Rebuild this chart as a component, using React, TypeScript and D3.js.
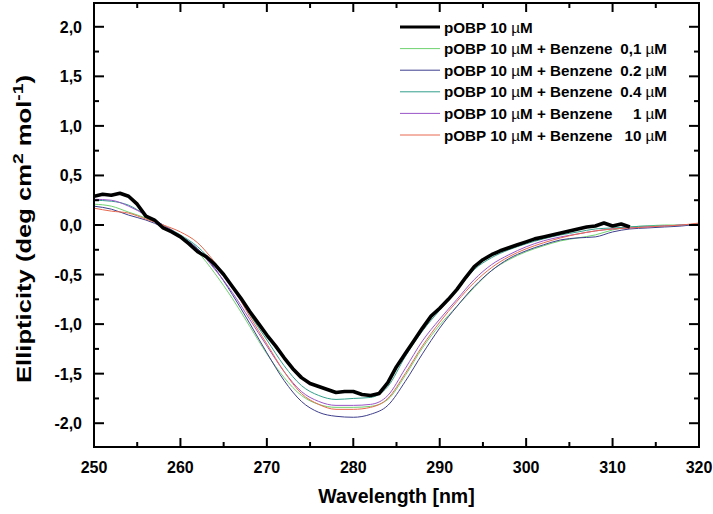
import React from 'react';
import * as d3 from 'd3';

const W = 713;
const H = 514;

// Black reference curve (pOBP 10 µM), 1-nm steps
const blackX = d3.range(250, 313, 1);
const blackY = [
  0.29, 0.31, 0.30, 0.32, 0.29, 0.21, 0.09, 0.05, -0.03, -0.07,
  -0.12, -0.19, -0.27, -0.32, -0.40, -0.50, -0.62, -0.74, -0.87, -0.99,
  -1.11, -1.22, -1.34, -1.45, -1.54, -1.60, -1.63, -1.66, -1.69, -1.68,
  -1.68, -1.71, -1.72, -1.70, -1.59, -1.43, -1.30, -1.17, -1.04, -0.92,
  -0.84, -0.75, -0.65, -0.53, -0.42, -0.35, -0.30, -0.26, -0.23, -0.20,
  -0.17, -0.14, -0.12, -0.10, -0.08, -0.06, -0.04, -0.02, -0.01, 0.02,
  -0.01, 0.01, -0.02,
];

// Benzene titration curves, 2-nm steps
const wl2 = [
  250, 252, 254, 256, 258, 260, 262, 264, 266, 268, 270, 272, 274, 276, 278, 280, 282, 284,
  286, 288, 290, 292, 294, 296, 298, 300, 302, 304, 306, 308, 310, 312, 314, 316, 318, 320,
];
const green01 = [
  0.21, 0.19, 0.13, 0.07, -0.01, -0.11, -0.27, -0.49, -0.74, -1.02, -1.30, -1.54, -1.72, -1.81, -1.84, -1.84, -1.83, -1.76,
  -1.52, -1.24, -1.01, -0.82, -0.63, -0.46, -0.35, -0.27, -0.21, -0.16, -0.13, -0.10, -0.05, -0.02, -0.01, 0.0, 0.0, 0.01,
];
const blue02 = [
  0.19, 0.16, 0.10, 0.05, -0.02, -0.11, -0.24, -0.44, -0.70, -0.99, -1.29, -1.57, -1.78, -1.89, -1.93, -1.94, -1.91, -1.82,
  -1.58, -1.30, -1.04, -0.82, -0.62, -0.46, -0.34, -0.26, -0.20, -0.15, -0.13, -0.12, -0.07, -0.04, -0.03, -0.02, -0.01, 0.01,
];
const teal04 = [
  0.25, 0.24, 0.20, 0.10, 0.0, -0.10, -0.22, -0.40, -0.62, -0.90, -1.16, -1.42, -1.62, -1.72, -1.76, -1.75, -1.74, -1.63,
  -1.33, -1.07, -0.86, -0.66, -0.45, -0.33, -0.25, -0.19, -0.14, -0.10, -0.07, -0.04, -0.03, -0.02, -0.01, -0.01, 0.0, 0.01,
];
const purple1 = [
  0.26, 0.25, 0.19, 0.10, 0.0, -0.11, -0.25, -0.45, -0.68, -0.95, -1.22, -1.48, -1.68, -1.78, -1.82, -1.82, -1.81, -1.72,
  -1.45, -1.17, -0.95, -0.75, -0.55, -0.40, -0.30, -0.22, -0.16, -0.12, -0.09, -0.06, -0.04, -0.03, -0.02, -0.01, 0.0, 0.01,
];
const red10 = [
  0.17, 0.14, 0.12, 0.06, 0.0, -0.07, -0.18, -0.38, -0.62, -0.92, -1.20, -1.48, -1.70, -1.81, -1.86, -1.86, -1.84, -1.75,
  -1.50, -1.22, -0.98, -0.77, -0.58, -0.43, -0.32, -0.24, -0.18, -0.13, -0.09, -0.06, -0.04, -0.03, -0.02, -0.01, 0.0, 0.02,
];

const legendMain = [
  'pOBP 10 µM',
  'pOBP 10 µM + Benzene',
  'pOBP 10 µM + Benzene',
  'pOBP 10 µM + Benzene',
  'pOBP 10 µM + Benzene',
  'pOBP 10 µM + Benzene',
];
const legendConc = ['', '0,1', '0.2', '0.4', '1', '10'];
const colors = ['#000000', '#6fd36f', '#3e3e8e', '#33a08c', '#9a55c8', '#e8694f'];
const widths = [3.6, 1, 1, 1, 1, 1];

const xTicks = [250, 260, 270, 280, 290, 300, 310, 320];
const xMinor = [255, 265, 275, 285, 295, 305, 315];
const yTicks = [-2.0, -1.5, -1.0, -0.5, 0.0, 0.5, 1.0, 1.5, 2.0];
const yMinor = [-1.75, -1.25, -0.75, -0.25, 0.25, 0.75, 1.25, 1.75];

const X0 = 94, X1 = 699, Y0 = 3, Y1 = 447;

export default function App() {
  const x = d3.scaleLinear().domain([250, 320]).range([X0, X1]);
  const y = d3.scaleLinear().domain([-2.24, 2.24]).range([Y1, Y0]);
  const fmt = (v: number) => d3.format('.1f')(v).replace('.', ',').replace('−', '-');

  const straightGen = d3
    .line<[number, number]>()
    .x((d) => x(d[0]))
    .y((d) => y(d[1]));
  const smoothGen = d3
    .line<[number, number]>()
    .x((d) => x(d[0]))
    .y((d) => y(d[1]))
    .curve(d3.curveMonotoneX);

  const seriesList = [
    { xs: blackX, ys: blackY },
    { xs: wl2, ys: green01 },
    { xs: wl2, ys: blue02 },
    { xs: wl2, ys: teal04 },
    { xs: wl2, ys: purple1 },
    { xs: wl2, ys: red10 },
  ];
  const drawOrder = [1, 2, 3, 4, 5, 0];

  const font = "'Liberation Sans', Arial, Helvetica, sans-serif";
  const legendY0 = 27;
  const legendDy = 21.6;
  const legendFs = 15.2;

  return (
    <svg width={W} height={H} style={{ position: 'absolute', left: 0, top: 0, background: '#fff' }} fontFamily={font}>
      <defs>
        <clipPath id="plotclip">
          <rect x={X0} y={Y0} width={X1 - X0} height={Y1 - Y0} />
        </clipPath>
      </defs>
      <rect x={0} y={0} width={W} height={H} fill="#fff" />
      <g clipPath="url(#plotclip)">
        {drawOrder.map((i) => {
          const s = seriesList[i];
          const pts = s.xs.map((v, k) => [v, s.ys[k]] as [number, number]);
          const gen = i === 0 ? straightGen : smoothGen;
          return (
            <path
              key={i}
              d={gen(pts) || ''}
              fill="none"
              stroke={colors[i]}
              strokeWidth={widths[i]}
              strokeLinejoin="round"
            />
          );
        })}
      </g>

      {/* ticks */}
      {xTicks.map((t) => (
        <g key={'xt' + t}>
          <line x1={x(t)} x2={x(t)} y1={Y1} y2={Y1 - 9} stroke="#000" strokeWidth={2} />
          <line x1={x(t)} x2={x(t)} y1={Y0} y2={Y0 + 9} stroke="#000" strokeWidth={2} />
          <text x={x(t)} y={473} textAnchor="middle" fontSize={16} fontWeight="bold">
            {t}
          </text>
        </g>
      ))}
      {xMinor.map((t) => (
        <g key={'xm' + t}>
          <line x1={x(t)} x2={x(t)} y1={Y1} y2={Y1 - 5} stroke="#000" strokeWidth={2} />
          <line x1={x(t)} x2={x(t)} y1={Y0} y2={Y0 + 5} stroke="#000" strokeWidth={2} />
        </g>
      ))}
      {yTicks.map((t) => (
        <g key={'yt' + t}>
          <line x1={X0} x2={X0 + 10} y1={y(t)} y2={y(t)} stroke="#000" strokeWidth={2} />
          <line x1={X1} x2={X1 - 10} y1={y(t)} y2={y(t)} stroke="#000" strokeWidth={2} />
          <text x={82} y={y(t) + 6} textAnchor="end" fontSize={16} fontWeight="bold">
            {fmt(t)}
          </text>
        </g>
      ))}
      {yMinor.map((t) => (
        <g key={'ym' + t}>
          <line x1={X0} x2={X0 + 5} y1={y(t)} y2={y(t)} stroke="#000" strokeWidth={2} />
          <line x1={X1} x2={X1 - 5} y1={y(t)} y2={y(t)} stroke="#000" strokeWidth={2} />
        </g>
      ))}

      <rect x={X0} y={Y0} width={X1 - X0} height={Y1 - Y0} fill="none" stroke="#000" strokeWidth={2} />

      {/* axis titles */}
      <text x={(X0 + X1) / 2} y={503} textAnchor="middle" fontSize={19.5} fontWeight="bold">
        Wavelength [nm]
      </text>
      <text
        transform={`translate(31,229) scale(1,1.28) rotate(-90)`}
        textAnchor="middle"
        fontSize={20}
        fontWeight="bold"
      >
        Ellipticity (deg cm
        <tspan dy={-8} fontSize={15}>2</tspan>
        <tspan dy={8}> mol</tspan>
        <tspan dy={-8} fontSize={15}>-1</tspan>
        <tspan dy={8}>)</tspan>
      </text>

      {/* legend */}
      {legendMain.map((lbl, i) => {
        const ly = legendY0 + i * legendDy;
        const parts = lbl.split('µ');
        return (
          <g key={'lg' + i}>
            <line x1={400} x2={440} y1={ly} y2={ly} stroke={colors[i]} strokeWidth={widths[i] === 1 ? 1 : 3.2} />
            <text x={444} y={ly + 5.5} fontSize={legendFs} fontWeight="bold">
              {parts[0]}
              <tspan fontWeight="normal">µ</tspan>
              {parts[1]}
            </text>
            {legendConc[i] !== '' && (
              <text x={667} y={ly + 5.5} fontSize={legendFs} fontWeight="bold" textAnchor="end">
                {legendConc[i] + ' '}
                <tspan fontWeight="normal">µ</tspan>M
              </text>
            )}
          </g>
        );
      })}
    </svg>
  );
}
